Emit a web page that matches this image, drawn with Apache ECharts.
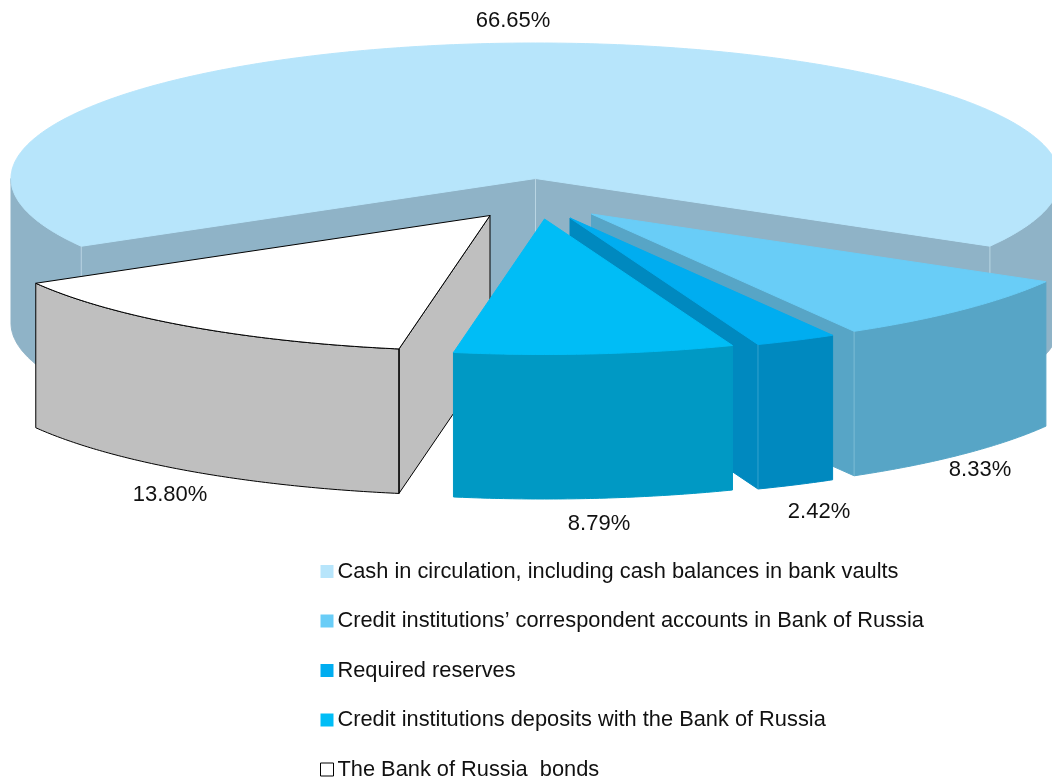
<!DOCTYPE html>
<html>
<head>
<meta charset="utf-8">
<title>Monetary base structure</title>
<style>
    html, body { margin: 0; padding: 0; background: #fff; overflow: hidden; }
    #chart { width: 1052px; height: 778px; }
</style>
<script src="https://cdn.jsdelivr.net/npm/echarts@6/dist/echarts.min.js"></script>
</head>
<body>
<div id="chart"></div>
<script>
    const categories = [
        'Cash in circulation, including cash balances in bank vaults',
        'Credit institutions\u2019 correspondent accounts in Bank of Russia',
        'Required reserves',
        'Credit institutions deposits with the Bank of Russia',
        'The Bank of Russia  bonds'
    ]
    const shares = [66.65, 8.33, 2.42, 8.79, 13.80]

    // styles and layout, kept apart from the values
    const topColors = ['#b7e5fb', '#69cdf7', '#00adf0', '#00bdf6', '#ffffff']
    const wallColors = ['#8fb3c7', '#57a5c6', '#0089bf', '#0099c4', '#bfbfbf']
    const seamColors = ['#b9d5e3', '#7cbcd6', '#33a3cf', '#0099c4', '#000000']
    const outlineColors = [null, null, null, null, '#000000']
    const explode = [[0, 0], [56, 35.5], [34.5, 39.5], [9, 40.5], [-45.5, 37]]
    const labelPos = [[513, 21], [980, 470], [819, 512], [599, 524], [170, 495]]
    const drawOrder = [2, 3, 4, 6, 5] // deposits slice sits in front of the bonds wall
    const boundaryNudge = [0, 0, 0, 0.33, -0.32] // slice start, the drawing rounds its angles

    const cx = 535.5, cy = 178.5, rx = 524.5, ry = 135.5, depth = 144.5
    const startAngle = 150 // degrees, clockwise on screen from east
    const font = '"Liberation Sans", Arial, sans-serif'

    const total = shares.reduce((a, b) => a + b, 0)
    let cursor = startAngle
    const edges = shares.map((v, i) => {
        const from = cursor + boundaryNudge[i]
        cursor += v / total * 360
        return from
    })
    edges.push(startAngle + 360)
    const sweeps = shares.map((v, i) => [edges[i], edges[i + 1]])

    const rad = d => d * Math.PI / 180

    function rim(ax, ay, deg) {
        return [ax + rx * Math.cos(rad(deg)), ay + ry * Math.sin(rad(deg))]
    }

    function arc(ax, ay, a0, a1) {
        const pts = []
        const n = Math.max(2, Math.ceil(Math.abs(a1 - a0) * 2))
        for (let i = 0; i <= n; i++) {
            pts.push(rim(ax, ay, a0 + (a1 - a0) * i / n))
        }
        return pts
    }

    function down(p) {
        return [p[0], p[1] + depth]
    }

    function renderSlice(idx) {
        const ax = cx + explode[idx][0], ay = cy + explode[idx][1]
        const a0 = sweeps[idx][0], a1 = sweeps[idx][1]
        const apex = [ax, ay]
        const stroke = outlineColors[idx] || wallColors[idx]
        const children = []

        const poly = (points, fill, line) => children.push({
            type: 'polygon',
            shape: {points: points},
            style: {fill: fill, stroke: line, lineWidth: 1}
        })
        const seam = p => children.push({
            type: 'line',
            shape: {x1: p[0], y1: p[1], x2: p[0], y2: p[1] + depth},
            style: {stroke: seamColors[idx], lineWidth: 1}
        })

        // flat cut faces, only the ones turned towards the viewer
        const faces = []
        if (Math.cos(rad(a0)) < 0) faces.push(a0)
        if (Math.cos(rad(a1)) > 0) faces.push(a1)
        faces.forEach(a => {
            const p = rim(ax, ay, a)
            poly([apex, p, down(p), down(apex)], wallColors[idx], stroke)
        })

        // curved outer wall, front half of the ellipse only
        for (let k = 0; k < 2; k++) {
            const f = Math.max(a0, 360 * k)
            const t = Math.min(a1, 180 + 360 * k)
            if (t > f) {
                const upper = arc(ax, ay, f, t)
                poly(upper.concat(upper.map(down).reverse()), wallColors[idx], stroke)
            }
        }

        faces.forEach(a => seam(rim(ax, ay, a)))
        if (faces.length === 2) seam(apex)

        // top of the slice
        poly([apex].concat(arc(ax, ay, a0, a1)), topColors[idx], outlineColors[idx] || topColors[idx])

        children.push({
            type: 'text',
            style: {
                x: labelPos[idx][0],
                y: labelPos[idx][1],
                text: shares[idx].toFixed(2) + '%',
                fill: '#111',
                font: '22px ' + font,
                textAlign: 'center',
                textVerticalAlign: 'middle'
            }
        })
        return {type: 'group', children: children}
    }

    const chart = echarts.init(document.getElementById('chart'))
    chart.setOption({
        backgroundColor: '#fff',
        animation: false,
        legend: {
            orient: 'vertical',
            left: 320,
            top: 559,
            height: 240,
            padding: 0,
            itemWidth: 13,
            itemHeight: 13,
            itemGap: 24.5,
            selectedMode: false,
            textStyle: {fontFamily: font, fontSize: 21.8, color: '#111', lineHeight: 25, padding: [0, 0, 0, -1]},
            data: categories.map((name, i) => ({
                name: name,
                icon: 'rect',
                itemStyle: {
                    color: topColors[i],
                    borderColor: outlineColors[i] || topColors[i],
                    borderWidth: outlineColors[i] ? 1 : 0
                }
            }))
        },
        series: categories.map((name, i) => ({
            type: 'custom',
            name: name,
            coordinateSystem: 'none',
            silent: true,
            clip: false,
            z: drawOrder[i],
            data: [shares[i]],
            renderItem: () => renderSlice(i)
        }))
    })
</script>
</body>
</html>
